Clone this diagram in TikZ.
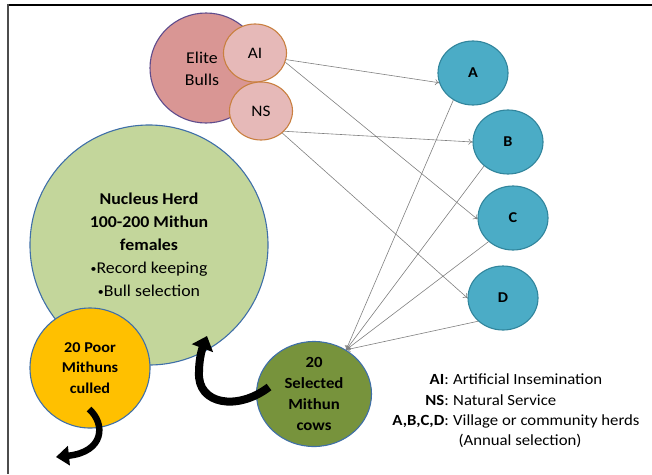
\documentclass[tikz,border=0pt]{standalone}
\usepackage{fontspec}
\setmainfont{Carlito}[FakeStretch=1.08]
\usetikzlibrary{shapes.geometric,arrows.meta}
\definecolor{elitefill}{HTML}{D99694}
\definecolor{elitedraw}{HTML}{5F4C8C}
\definecolor{pinkfill}{HTML}{E6B9B8}
\definecolor{pinkdraw}{HTML}{C98040}
\definecolor{nucfill}{HTML}{C3D69B}
\definecolor{bluedraw}{HTML}{3F6FA8}
\definecolor{poorfill}{HTML}{FFC000}
\definecolor{cowfill}{HTML}{77933C}
\definecolor{herdfill}{HTML}{4BACC6}
\definecolor{herddraw}{HTML}{31859C}
\definecolor{conncol}{HTML}{808080}
\newcommand{\smbul}{{\fontsize{11}{11}\selectfont\raisebox{1.2pt}{•}}}
\begin{document}
\begin{tikzpicture}[x=1pt,y=-1pt,
  blob/.style={ellipse, draw, line width=1.1pt, inner sep=0pt, align=center},
  elitec/.style={blob, fill=elitefill, draw=elitedraw, minimum width=112pt, minimum height=110pt},
  pinkc/.style={blob, fill=pinkfill, draw=pinkdraw, minimum width=63pt, minimum height=58pt,
    font=\fontsize{16}{19}\selectfont},
  nucc/.style={blob, fill=nucfill, draw=bluedraw, minimum width=238pt, minimum height=240pt,
    font=\fontsize{16.5}{23}\selectfont},
  poorc/.style={blob, fill=poorfill, draw=bluedraw, minimum width=120pt, minimum height=120pt,
    font=\bfseries\fontsize{15}{20.5}\selectfont},
  cowc/.style={blob, fill=cowfill, draw=bluedraw, minimum width=115pt, minimum height=105pt,
    font=\bfseries\fontsize{15.5}{21}\selectfont},
  herdc/.style={blob, fill=herdfill, draw=herddraw, minimum width=70pt, minimum height=64pt,
    font=\bfseries\fontsize{15}{18}\selectfont},
  txt/.style={inner sep=0pt, align=center, font=\fontsize{16.5}{22}\selectfont},
  legtxt/.style={inner sep=0pt, font=\fontsize{15.5}{20}\selectfont},
  conn/.style={draw=conncol, line width=0.6pt, -{To[length=4pt,width=6pt]}},
  bigarrow/.style={draw=black, line width=8pt, -{Triangle[length=13pt,width=22pt]}}
]
\useasboundingbox (0,0) rectangle (652,474);
% frame
\draw[line width=1.6pt, draw=black] (7,5) -- (652,5);
\draw[line width=2pt, draw=black!70] (8,4.2) -- (8,474);

% elite bulls
\node[elitec] (elite) at (206,68) {};
\node[txt] (elitetxt) at (202,69) {Elite\\Bulls};
\node[pinkc] (AI) at (255,53) {AI};
\node[pinkc] (NS) at (261,111) {NS};

% nucleus herd
\node[nucc] (nuc) at (149,245) {\textbf{Nucleus Herd}\\\textbf{100-200 Mithun}\\\textbf{females}\\\smbul Record keeping\\\smbul Bull selection};

% poor mithuns
\node[poorc] (poor) at (90,368) {20 Poor\\Mithuns\\culled};

% selected cows
\node[cowc] (cows) at (314,394) {20\\Selected\\Mithun\\cows};

% herds
\node[herdc] (A) at (473,73) {A};
\node[herdc] (B) at (508,142) {B};
\node[herdc] (C) at (513,218) {C};
\node[herdc] (D) at (503,298) {D};

% connectors
\draw[conn] (AI.348) -- (A.196);
\draw[conn] (AI.343) -- (C.182);
\draw[conn] (NS.319) -- (B.180);
\draw[conn] (NS.314) -- (D.180);
\draw[conn] (A.234) -- (cows.54);
\draw[conn] (B.225) -- (cows.54);
\draw[conn] (C.224) -- (cows.54);
\draw[conn] (D.223) -- (cows.54);

% big black arrows
\coordinate (cstart) at (269,387);
\coordinate (ctip) at (207,336);
\draw[bigarrow] (cstart) .. controls (238,411) and (197,405) .. (199,372) .. controls (199,362) and (201,352) .. (ctip);
\coordinate (pstart) at (89,409);
\coordinate (ptip) at (56,457);
\draw[bigarrow, line width=6.5pt, -{Triangle[length=13pt,width=19pt]}] (pstart) .. controls (106,424) and (104,452) .. (ptip);

% legend
\node[legtxt, anchor=base east] (l1a) at (449,384) {\textbf{AI}:};
\node[legtxt, anchor=base west] (l1b) at (453,384) {Artificial Insemination};
\node[legtxt, anchor=base east] (l2a) at (449,405) {\textbf{NS}:};
\node[legtxt, anchor=base west] (l2b) at (453,405) {Natural Service};
\node[legtxt, anchor=base east] (l3a) at (449,425) {\textbf{A,B,C,D}:};
\node[legtxt, anchor=base west] (l3b) at (453,425) {Village or community herds};
\node[legtxt, anchor=base] (l4) at (520,445) {(Annual selection)};
\end{tikzpicture}
\end{document}
